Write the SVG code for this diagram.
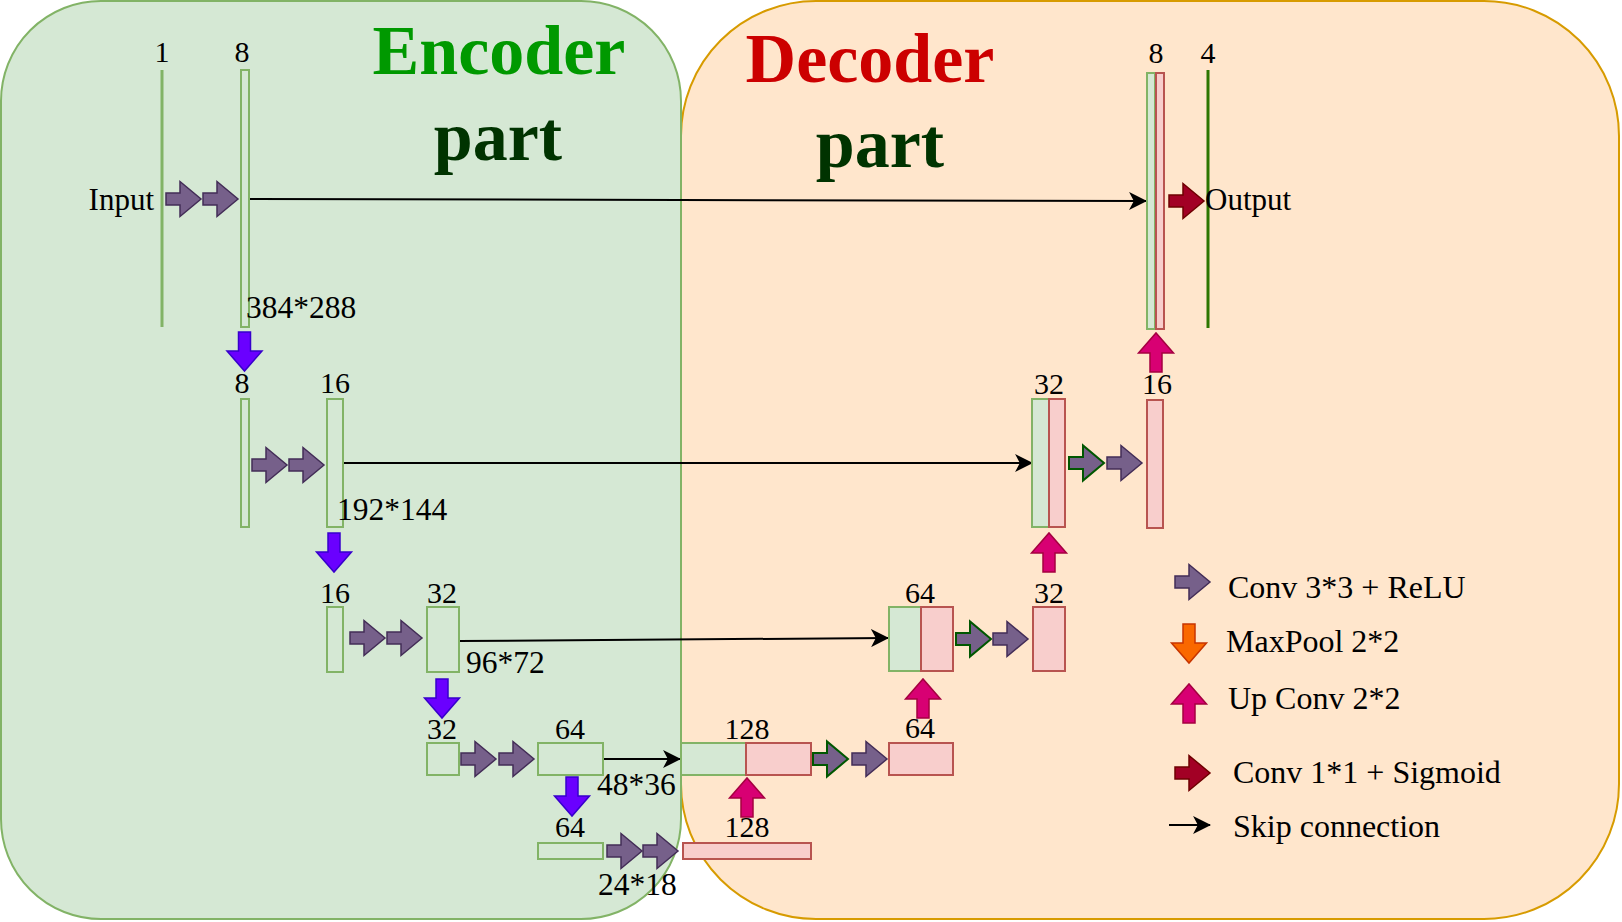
<svg xmlns="http://www.w3.org/2000/svg" xmlns:xlink="http://www.w3.org/1999/xlink" width="1622" height="922" viewBox="0 0 1622 922">
<style>
text{font-family:"Liberation Serif","Times New Roman",serif;fill:#000}
.num{font-size:30px;text-anchor:middle}
.dim{font-size:31.5px}
.io{font-size:31px}
.leg{font-size:32px}
.title{font-size:70px;font-weight:bold;text-anchor:middle}
.g{fill:#d5e8d4;stroke:#82b366;stroke-width:2}
.r{fill:#f8cecc;stroke:#b85450;stroke-width:2}
.conv{fill:#76608a;stroke:#432d57;stroke-width:1.5}
.convg{fill:#76608a;stroke:#005700;stroke-width:2}
.pool{fill:#6a00ff;stroke:#3700cc;stroke-width:1.5}
.poolo{fill:#fa6800;stroke:#c73500;stroke-width:1.5}
.up{fill:#d80073;stroke:#a50040;stroke-width:1.5}
.sig{fill:#a20025;stroke:#6f0000;stroke-width:1.5}
.skip{fill:none;stroke:#000;stroke-width:2;marker-end:url(#ah)}
</style>
<defs>
<path id="ra" d="M0,-6 H14 V-17.5 L35,0 L14,17.5 V6 H0 Z"/>
<path id="da" d="M-6,0 H6 V19 H17.5 L0,39 L-17.5,19 H-6 Z"/>
<path id="ua" d="M-6,39 H6 V20 H17.5 L0,0 L-17.5,20 H-6 Z"/>
<marker id="ah" markerUnits="userSpaceOnUse" markerWidth="18" markerHeight="18" viewBox="0 0 17 17" refX="16" refY="8.5" orient="auto">
<path d="M0,0 L17,8.5 L0,17 L4.5,8.5 Z" fill="#000"/>
</marker>
</defs>

<g id="decoder-bg">
<rect x="681" y="1" width="938" height="918" rx="135" ry="135" fill="#ffe6cc" stroke="#d79b00" stroke-width="2"/>
</g>
<g id="encoder-bg">
<rect x="1" y="1" width="680" height="918" rx="100" ry="100" fill="#d5e8d4" stroke="#82b366" stroke-width="2"/>
</g>

<g id="titles">
<text class="title" x="499" y="74" style="fill:#009900">Encoder</text>
<text class="title" x="498" y="160" style="fill:#003300">part</text>
<text class="title" x="870" y="82" style="fill:#cc0000">Decoder</text>
<text class="title" x="880" y="167" style="fill:#003300">part</text>
</g>

<g id="connectors">
<line class="skip" x1="249" y1="199" x2="1146" y2="201"/>
<line class="skip" x1="343" y1="463" x2="1032" y2="463"/>
<line class="skip" x1="459" y1="641" x2="888" y2="638"/>
<line class="skip" x1="603" y1="759" x2="680" y2="759"/>
</g>

<g id="enc1">
<line x1="162" y1="70" x2="162" y2="327" stroke="#82b366" stroke-width="3"/>
<text class="num" x="162" y="62">1</text>
<text class="io" x="154" y="210" text-anchor="end">Input</text>
<rect class="g" x="241" y="70" width="8" height="257"/>
<text class="num" x="242" y="62">8</text>
<text class="dim" x="246" y="318">384*288</text>
<use href="#ra" class="conv" transform="translate(166,199)"/>
<use href="#ra" class="conv" transform="translate(203,199)"/>
<use href="#da" class="pool" transform="translate(244.5,332)"/>
</g>

<g id="enc2">
<rect class="g" x="241" y="399" width="8" height="128"/>
<text class="num" x="242" y="393">8</text>
<rect class="g" x="327" y="399" width="16" height="128"/>
<text class="num" x="335" y="393">16</text>
<text class="dim" x="337" y="520">192*144</text>
<use href="#ra" class="conv" transform="translate(252,465)"/>
<use href="#ra" class="conv" transform="translate(289,465)"/>
<use href="#da" class="pool" transform="translate(334,533)"/>
</g>

<g id="enc3">
<rect class="g" x="327" y="607" width="16" height="65"/>
<text class="num" x="335" y="603">16</text>
<rect class="g" x="427" y="607" width="32" height="65"/>
<text class="num" x="442" y="603">32</text>
<text class="dim" x="466" y="673">96*72</text>
<use href="#ra" class="conv" transform="translate(350,638)"/>
<use href="#ra" class="conv" transform="translate(387,638)"/>
<use href="#da" class="pool" transform="translate(442,679)"/>
</g>

<g id="enc4">
<rect class="g" x="427" y="743" width="32" height="32"/>
<text class="num" x="442" y="739">32</text>
<rect class="g" x="538" y="743" width="65" height="32"/>
<text class="num" x="570" y="739">64</text>
<text class="dim" x="597" y="795">48*36</text>
<use href="#ra" class="conv" transform="translate(461,759)"/>
<use href="#ra" class="conv" transform="translate(499,759)"/>
<use href="#da" class="pool" transform="translate(572,777)"/>
</g>

<g id="enc5">
<rect class="g" x="538" y="843" width="65" height="16"/>
<text class="num" x="570" y="837">64</text>
<text class="dim" x="598" y="895">24*18</text>
<use href="#ra" class="conv" transform="translate(607,851)"/>
<use href="#ra" class="conv" transform="translate(643,851)"/>
</g>

<g id="dec5">
<rect class="r" x="683" y="843" width="128" height="16"/>
<text class="num" x="747" y="837">128</text>
<use href="#ua" class="up" transform="translate(747,778)"/>
</g>

<g id="dec4">
<rect class="g" x="681" y="743" width="65" height="32"/>
<rect class="r" x="746" y="743" width="65" height="32"/>
<text class="num" x="747" y="739">128</text>
<use href="#ra" class="convg" transform="translate(813,759)"/>
<use href="#ra" class="conv" transform="translate(852,759)"/>
<rect class="r" x="889" y="743" width="64" height="32"/>
<text class="num" x="920" y="738">64</text>
<use href="#ua" class="up" transform="translate(923,679)"/>
</g>

<g id="dec3">
<rect class="g" x="889" y="607" width="32" height="64"/>
<rect class="r" x="921" y="607" width="32" height="64"/>
<text class="num" x="920" y="603">64</text>
<use href="#ra" class="convg" transform="translate(956,639)"/>
<use href="#ra" class="conv" transform="translate(993,639)"/>
<rect class="r" x="1033" y="607" width="32" height="64"/>
<text class="num" x="1049" y="603">32</text>
<use href="#ua" class="up" transform="translate(1049,533)"/>
</g>

<g id="dec2">
<rect class="g" x="1032" y="399" width="17" height="128"/>
<rect class="r" x="1049" y="399" width="16" height="128"/>
<text class="num" x="1049" y="394">32</text>
<use href="#ra" class="convg" transform="translate(1069,463)"/>
<use href="#ra" class="conv" transform="translate(1107,463)"/>
<rect class="r" x="1147" y="400" width="16" height="128"/>
<text class="num" x="1157" y="394">16</text>
<use href="#ua" class="up" transform="translate(1156,333)"/>
</g>

<g id="dec1">
<rect class="g" x="1147" y="73" width="8" height="256"/>
<rect class="r" x="1156" y="73" width="8" height="256"/>
<text class="num" x="1156" y="63">8</text>
<use href="#ra" class="sig" transform="translate(1169,201)"/>
<line x1="1208" y1="70" x2="1208" y2="328" stroke="#2d7600" stroke-width="3"/>
<text class="num" x="1208" y="63">4</text>
<text class="io" x="1205" y="210">Output</text>
</g>

<g id="legend">
<use href="#ra" class="conv" transform="translate(1175,582)"/>
<text class="leg" x="1228" y="598">Conv 3*3 + ReLU</text>
<use href="#da" class="poolo" transform="translate(1189,624)"/>
<text class="leg" x="1226" y="652">MaxPool 2*2</text>
<use href="#ua" class="up" transform="translate(1189,684)"/>
<text class="leg" x="1228" y="709">Up Conv 2*2</text>
<use href="#ra" class="sig" transform="translate(1175,773)"/>
<text class="leg" x="1233" y="783">Conv 1*1 + Sigmoid</text>
<line class="skip" x1="1169" y1="825" x2="1210" y2="825"/>
<text class="leg" x="1233" y="837">Skip connection</text>
</g>
</svg>
